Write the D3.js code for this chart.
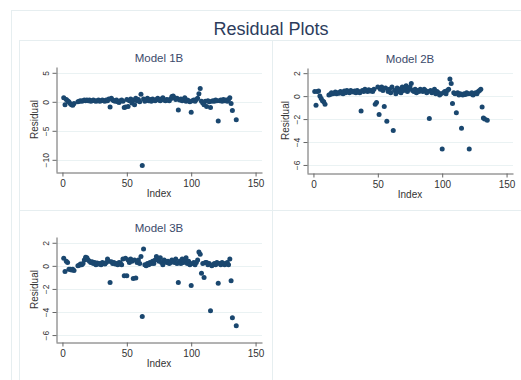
<!DOCTYPE html>
<html>
<head>
<meta charset="utf-8">
<script src="https://cdn.jsdelivr.net/npm/d3@7"></script>
<style>
  body { margin: 0; background: #fff; }
  svg { font-family: "Liberation Sans", Arial, sans-serif; }
</style>
</head>
<body>
<svg id="chart"></svg>
<script>
// observation index (10, 11, 133, 134 missing)
var obsIndex = d3.range(1, 136);

var model1B = [0.7, -0.5, 0.4, 0.2, 0.0, -0.3, -0.5, -0.6, -0.3, null, null, 0.0, 0.1, 0.2, 0.1,
  0.2, 0.3, 0.2, 0.3, 0.2, 0.3, 0.1, 0.2, 0.3, 0.2, 0.1, 0.2, 0.3, 0.1, 0.2,
  0.3, 0.2, 0.1, 0.3, 0.2, 0.5, -0.9, 0.6, 0.3, 0.2, 0.1, 0.3, 0.0, -0.1, 0.2,
  0.3, 0.1, -1.0, -0.9, 0.4, -0.8, 0.2, 0.5, -0.2, 0.3, -0.5, 0.6, 0.2, 0.4, 0.0,
  1.3, -11.0, 0.5, 0.1, 0.3, 0.6, 0.2, 0.4, 0.1, 0.5, 0.3, 0.2, 0.4, 0.6, 0.3,
  0.2, 0.5, 0.7, 0.3, 0.2, 0.4, 0.3, 0.2, 0.5, 0.9, 1.0, 0.7, 0.4, 0.6, -1.4,
  0.3, 0.5, 0.2, 0.4, 0.7, 0.1, 0.3, 0.2, 0.0, -1.8, 0.2, 0.3, 0.1, 0.4, 0.6,
  1.4, 2.3, 0.1, -0.2, -0.5, 0.1, -0.8, 0.2, 0.0, -1.0, 0.1, 0.2, 0.1, 0.3, 0.2,
  -3.3, 0.2, 0.3, 0.1, 0.4, 0.2, 0.3, 0.1, 0.4, 0.7, -0.3, -1.5, null, null, -3.1];

var model2B = [0.4, -0.8, 0.4, 0.45, 0.0, -0.2, -0.4, -0.5, -0.7, null, null, 0.1, 0.15, 0.3, 0.2,
  0.25, 0.35, 0.2, 0.3, 0.25, 0.4, 0.3, 0.2, 0.45, 0.3, 0.5, 0.4, 0.3, 0.5, 0.4,
  0.35, 0.45, 0.3, 0.5, 0.4, 0.3, -1.3, 0.5, 0.4, 0.6, 0.5, 0.4, 0.55, 0.45, 0.5,
  0.4, 0.6, -0.7, -0.55, 0.8, -1.6, 0.6, 0.8, 0.5, -0.9, 0.7, -2.2, 0.4, 0.6, 0.3,
  0.8, -3.0, 0.5, 0.2, 0.7, 0.4, 0.6, 0.3, 0.8, 0.5, 0.7, 0.9, 0.4, 0.6, 0.8,
  1.1, 0.5, 0.4, 0.6, 0.3, 0.5, 0.4, 0.6, 0.5, 0.4, 0.6, 0.5, 0.3, 0.4, -1.95,
  0.5, 0.3, 0.4, 0.6, 0.2, 0.4, 0.3, 0.1, 0.2, -4.6, 0.3, 0.4, 0.2, 0.5, 0.6,
  1.5, 1.1, -0.65, 0.3, 0.2, -1.45, 0.3, 0.1, 0.2, -2.8, 0.1, 0.2, 0.15, 0.3, 0.2,
  -4.6, 0.2, 0.3, 0.1, 0.2, 0.3, 0.2, 0.4, 0.5, 0.6, -0.95, -1.9, -2.0, null, -2.1];

var model3B = [0.65, -0.5, 0.4, 0.3, -0.3, -0.3, -0.35, -0.3, -0.4, null, null, 0.0, 0.05, 0.15, 0.1,
  0.2, 0.5, 0.75, 0.7, 0.5, 0.4, 0.3, 0.35, 0.2, 0.3, 0.1, 0.25, 0.15, 0.2, 0.1,
  0.3, 0.2, 0.15, 0.3, 0.6, 0.4, -1.45, 0.35, 0.2, 0.3, 0.15, 0.2, 0.1, 0.3, 0.25,
  0.1, 0.6, -0.85, 0.65, -0.85, 0.5, 0.3, 0.6, 0.4, -1.1, 0.5, -1.05, 0.3, 0.5, 0.2,
  0.8, -4.4, 1.45, 0.1, 0.0, 0.2, 0.1, 0.3, 0.2, 0.4, 0.2, 0.5, 0.8, 0.6, 0.4,
  0.7, 0.3, 0.1, 0.5, 0.4, 0.3, 0.4, 0.2, 0.3, 0.5, 0.4, 0.3, 0.6, 0.2, -1.45,
  0.4, 0.2, 0.6, 0.3, 0.5, 0.7, 0.2, 0.4, 0.1, -1.7, 0.2, 0.3, 0.1, 0.3, 0.5,
  1.2, 1.0, -0.65, 0.2, -1.0, 0.3, 0.3, 0.1, 0.2, -3.9, 0.0, 0.1, 0.2, 0.1, 0.3,
  -1.5, 0.2, 0.1, 0.3, 0.2, 0.1, 0.2, 0.3, 0.1, 0.6, -1.3, -4.5, null, null, -5.2];

var xTicks = [0, 50, 100, 150];
var yTicks1 = [5, 0, -5, -10];
var yTicks23 = [2, 0, -2, -4, -6];

var width = 521, height = 380;
var markColor = "#1a476f";
var gridColor = "#eaf2f3";
var frameColor = "#e6eef0";

var svg = d3.select("#chart")
  .attr("width", width)
  .attr("height", height);

// outer frame + panel boxes
svg.append("rect")
  .attr("x", 11.5).attr("y", 10.5)
  .attr("width", 530).attr("height", 380)
  .attr("fill", "none").attr("stroke", frameColor);

var boxes = [[19.5, 40.5, 253, 170], [272.5, 40.5, 260, 170], [19.5, 210.5, 253, 180]];
svg.selectAll("rect.box")
  .data(boxes)
  .enter().append("rect")
  .attr("class", "box")
  .attr("x", d => d[0]).attr("y", d => d[1])
  .attr("width", d => d[2]).attr("height", d => d[3])
  .attr("fill", "none").attr("stroke", frameColor);

svg.append("text")
  .attr("x", 271).attr("y", 35)
  .attr("text-anchor", "middle")
  .attr("font-size", 18)
  .attr("fill", "#2c3c5c")
  .text("Residual Plots");

function drawPanel(opts) {
  var left = opts.left, top = opts.top, bottom = opts.bottom, right = left + 206;

  var x = d3.scaleLinear().domain([-5, 155]).range([left, right]);
  var y = d3.scaleLinear().domain(opts.yDomain).range([bottom, top]);

  var g = svg.append("g");

  // light gridlines
  g.append("g")
    .selectAll("line")
    .data(opts.yTicks)
    .enter().append("line")
    .attr("x1", left).attr("x2", right)
    .attr("y1", d => Math.round(y(d)) + 0.5)
    .attr("y2", d => Math.round(y(d)) + 0.5)
    .attr("stroke", gridColor);

  var xAxis = g.append("g")
    .attr("transform", `translate(0,${bottom + 0.5})`)
    .call(d3.axisBottom(x).tickValues(xTicks).tickSize(4).tickSizeOuter(0).tickPadding(3));

  var yAxis = g.append("g")
    .attr("transform", `translate(${left + 0.5},0)`)
    .call(d3.axisLeft(y).tickValues(opts.yTicks).tickSize(4).tickSizeOuter(0).tickPadding(3));

  [xAxis, yAxis].forEach(function(a) {
    a.select(".domain").attr("stroke", "#666");
    a.selectAll(".tick line").attr("stroke", "#666");
    a.selectAll(".tick text").attr("fill", "#333").attr("font-family", null);
  });
  xAxis.selectAll(".tick text").attr("font-size", 10);

  // stata-style vertical y labels
  yAxis.selectAll(".tick text")
    .attr("font-size", 8.5)
    .attr("x", null).attr("dy", null)
    .attr("text-anchor", "middle")
    .attr("transform", "translate(-8,0) rotate(-90)");

  g.append("text")
    .attr("x", (left + right) / 2).attr("y", top - 5)
    .attr("text-anchor", "middle")
    .attr("font-size", 11.5)
    .attr("fill", "#3b4a6b")
    .text(opts.title);

  g.append("text")
    .attr("x", (left + right) / 2).attr("y", bottom + 25)
    .attr("text-anchor", "middle")
    .attr("font-size", 10)
    .attr("fill", "#333")
    .text("Index");

  g.append("text")
    .attr("transform", `translate(${left - 18},${(top + bottom) / 2}) rotate(-90)`)
    .attr("text-anchor", "middle")
    .attr("font-size", 10)
    .attr("fill", "#333")
    .text("Residual");

  var pts = obsIndex.map((k, i) => ({ i: k, r: opts.values[i] })).filter(d => d.r != null);

  g.append("g")
    .selectAll("circle")
    .data(pts)
    .enter().append("circle")
    .attr("cx", d => x(d.i))
    .attr("cy", d => y(d.r))
    .attr("r", 2.5)
    .attr("fill", markColor);
}

drawPanel({ title: "Model 1B", values: model1B, left: 56, top: 67, bottom: 172, yDomain: [-12.1, 6.0], yTicks: yTicks1 });
drawPanel({ title: "Model 2B", values: model2B, left: 307, top: 68, bottom: 173, yDomain: [-6.7, 2.45], yTicks: yTicks23 });
drawPanel({ title: "Model 3B", values: model3B, left: 56, top: 237, bottom: 342, yDomain: [-6.6, 2.5], yTicks: yTicks23 });
</script>
</body>
</html>
